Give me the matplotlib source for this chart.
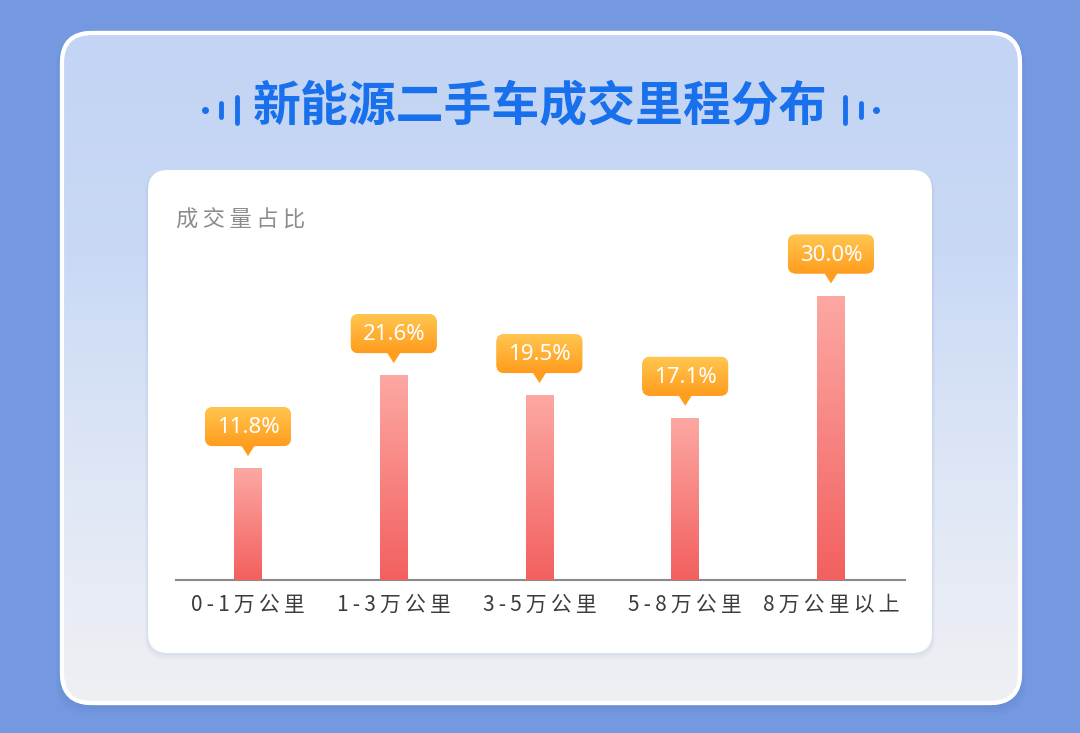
import numpy as np
import matplotlib.pyplot as plt
from matplotlib.patches import FancyBboxPatch, Polygon
from matplotlib.colors import LinearSegmentedColormap

plt.rcParams['font.family'] = ['Noto Sans CJK SC', 'DejaVu Sans']

title = "新能源二手车成交里程分布"
y_label = "成交量占比"
categories = ["0-1万公里", "1-3万公里", "3-5万公里", "5-8万公里", "8万公里以上"]
shares = [11.8, 21.6, 19.5, 17.1, 30.0]

W, H = 1080, 733
fig = plt.figure(figsize=(W / 100, H / 100), dpi=100)
fig.patch.set_facecolor("#7499e0")

# pixel-space background axes
bg = fig.add_axes([0, 0, 1, 1], zorder=0)
bg.set_xlim(0, W)
bg.set_ylim(H, 0)
bg.axis("off")


def gradient_in(axis, patch, x0, x1, y0, y1, colors, zorder):
    cmap = LinearSegmentedColormap.from_list("g", colors)
    grad = np.linspace(0, 1, 256).reshape(-1, 1)
    im = axis.imshow(grad, cmap=cmap, extent=(x0, x1, y1, y0), aspect="auto",
                     zorder=zorder, interpolation="bicubic")
    im.set_clip_path(patch)
    return im


def spaced(s):
    # wide letter spacing as in the reference
    return "\u2009".join(s)


# outer card shadow + card
for k in range(3):
    s = FancyBboxPatch((62 - 2 - k * 2, 33 + 2), 958 + 4 + k * 4, 670 + 4 + k * 3,
                       boxstyle="round,pad=0,rounding_size=32", fc="#3a5fb0",
                       ec="none", alpha=0.05, zorder=1)
    bg.add_patch(s)
outer = FancyBboxPatch((62, 33), 958, 670, boxstyle="round,pad=0,rounding_size=30",
                       fc="#c6d7f4", ec="white", lw=3, zorder=2)
bg.add_patch(outer)
gradient_in(bg, outer, 62, 1020, 33, 703,
            ["#c3d4f4", "#c9d9f5", "#dfe7f6", "#eff0f3"], 2.5)
edge = FancyBboxPatch((62, 33), 958, 670, boxstyle="round,pad=0,rounding_size=30",
                      fc="none", ec="white", lw=3, zorder=3)
bg.add_patch(edge)

# inner white card
for k in range(3):
    s = FancyBboxPatch((148 - 1 - k, 170 + 1), 784 + 2 + 2 * k, 483 + 1 + 2 * k,
                       boxstyle="round,pad=0,rounding_size=21", fc="#8aa0c8",
                       ec="none", alpha=0.06, zorder=3.5)
    bg.add_patch(s)
inner = FancyBboxPatch((148, 170), 784, 483, boxstyle="round,pad=0,rounding_size=20",
                       fc="white", ec="none", zorder=4)
bg.add_patch(inner)

# title and decorations
blue = "#1870ec"
bg.text(540, 107, title, ha="center", va="center", fontsize=34.5, fontweight="heavy",
        color=blue, zorder=5)
bg.plot([205], [110], "o", ms=4, color=blue, zorder=5)
bg.plot([876], [110], "o", ms=4, color=blue, zorder=5)
for x, h in [(221, 14), (237, 26), (845, 26), (861, 14)]:
    bg.plot([x, x], [110 - h / 2, 110 + h / 2], color=blue, lw=3.5,
            solid_capstyle="round", zorder=5)

bg.text(176, 220, spaced(y_label), ha="left", va="center", fontsize=16,
        color="#8c8c8c", zorder=5)

# data axes
ax_l, ax_r, ax_t, ax_b = 176, 905, 250, 580
ax = fig.add_axes([ax_l / W, 1 - ax_b / H, (ax_r - ax_l) / W, (ax_b - ax_t) / H],
                  zorder=6)
ax.patch.set_alpha(0)
x = np.arange(len(categories))
ax.set_xlim(-0.494, 4.508)
ax.set_ylim(0, 34.8)
bars = ax.bar(x, shares, width=0.19, color="#f5716f", zorder=2)
for b in bars:
    bx = b.get_x()
    gradient_in(ax, b, bx, bx + b.get_width(), b.get_height(), 0,
                ["#fda8a3", "#f2605f"], 3)
for sp in ["top", "right", "left"]:
    ax.spines[sp].set_visible(False)
ax.spines["bottom"].set_color("#8a8a8a")
ax.spines["bottom"].set_linewidth(1.5)
ax.set_yticks([])
ax.set_xticks(x)
ax.set_xticklabels([spaced(c) for c in categories], fontsize=15, color="#3c3c3c")
ax.tick_params(axis="x", length=0, pad=10)

# value bubbles in a pixel overlay
top = fig.add_axes([0, 0, 1, 1], zorder=7)
top.set_xlim(0, W)
top.set_ylim(H, 0)
top.axis("off")
to_px = ax.transData + top.transData.inverted()
bw, bh = 86, 39
for xi, v in zip(x, shares):
    px, py = to_px.transform((xi, v))
    tip = py - 12
    cy = tip - 10 - bh / 2
    tri = Polygon([[px - 7, tip - 11], [px + 7, tip - 11], [px, tip]], closed=True,
                  fc="#ff9d1f", ec="none", zorder=8)
    top.add_patch(tri)
    box = FancyBboxPatch((px - bw / 2, cy - bh / 2), bw, bh,
                         boxstyle="round,pad=0,rounding_size=8", fc="#ffae30",
                         ec="none", zorder=8)
    top.add_patch(box)
    gradient_in(top, box, px - bw / 2, px + bw / 2, cy - bh / 2, cy + bh / 2,
                ["#ffc650", "#ff9c1d"], 8.5)
    top.text(px, cy + 1, f"{v:.1f}%", ha="center", va="center", fontsize=16,
             fontweight="medium", color="white",
             family=["Noto Sans", "DejaVu Sans"], zorder=9)

fig.savefig("out.png", dpi=100, facecolor=fig.get_facecolor())
